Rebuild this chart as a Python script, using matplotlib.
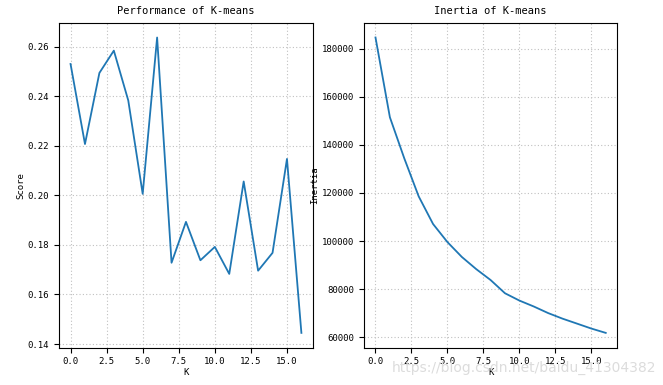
import matplotlib
matplotlib.use("Agg")
import matplotlib.pyplot as plt
from matplotlib.ticker import MultipleLocator

k = list(range(17))
score = [0.2530, 0.2207, 0.2494, 0.2584, 0.2383, 0.2006, 0.2637, 0.1728, 0.1893,
         0.1738, 0.1792, 0.1683, 0.2056, 0.1696, 0.1768, 0.2147, 0.1445]
inertia = [184650, 151480, 134400, 118600, 107100, 99570, 93400, 88340, 83800,
           78300, 75270, 72800, 70060, 67740, 65690, 63630, 61830]

plt.rcParams['font.family'] = ['DejaVu Sans Mono']
plt.rcParams['xtick.labelsize'] = 6.5
plt.rcParams['ytick.labelsize'] = 6.5

fig = plt.figure(figsize=(6.63, 3.85), dpi=100)
ax1 = fig.add_axes([0.089, 0.097, 0.383, 0.844])
ax2 = fig.add_axes([0.549, 0.097, 0.382, 0.844])

for ax, y, title, ylab in [(ax1, score, "Performance of K-means", "Score"),
                           (ax2, inertia, "Inertia of K-means", "Inertia")]:
    ax.plot(k, y, color="#1f77b4", lw=1.3)
    ax.set_title(title, fontsize=7.5)
    ax.set_xlabel("K", fontsize=6.5, labelpad=1)
    ax.set_ylabel(ylab, fontsize=6.5, labelpad=2)
    ax.xaxis.set_major_locator(MultipleLocator(2.5))
    ax.grid(True, linestyle=(0, (1, 2)), color="#c0c0c0", lw=0.8)

fig.text(0.99, 0.025, "https://blog.csdn.net/baidu_41304382", ha="right", va="bottom",
         fontsize=10, color="#dcdcdc", family="DejaVu Sans")

fig.savefig("out.png", dpi=100)
